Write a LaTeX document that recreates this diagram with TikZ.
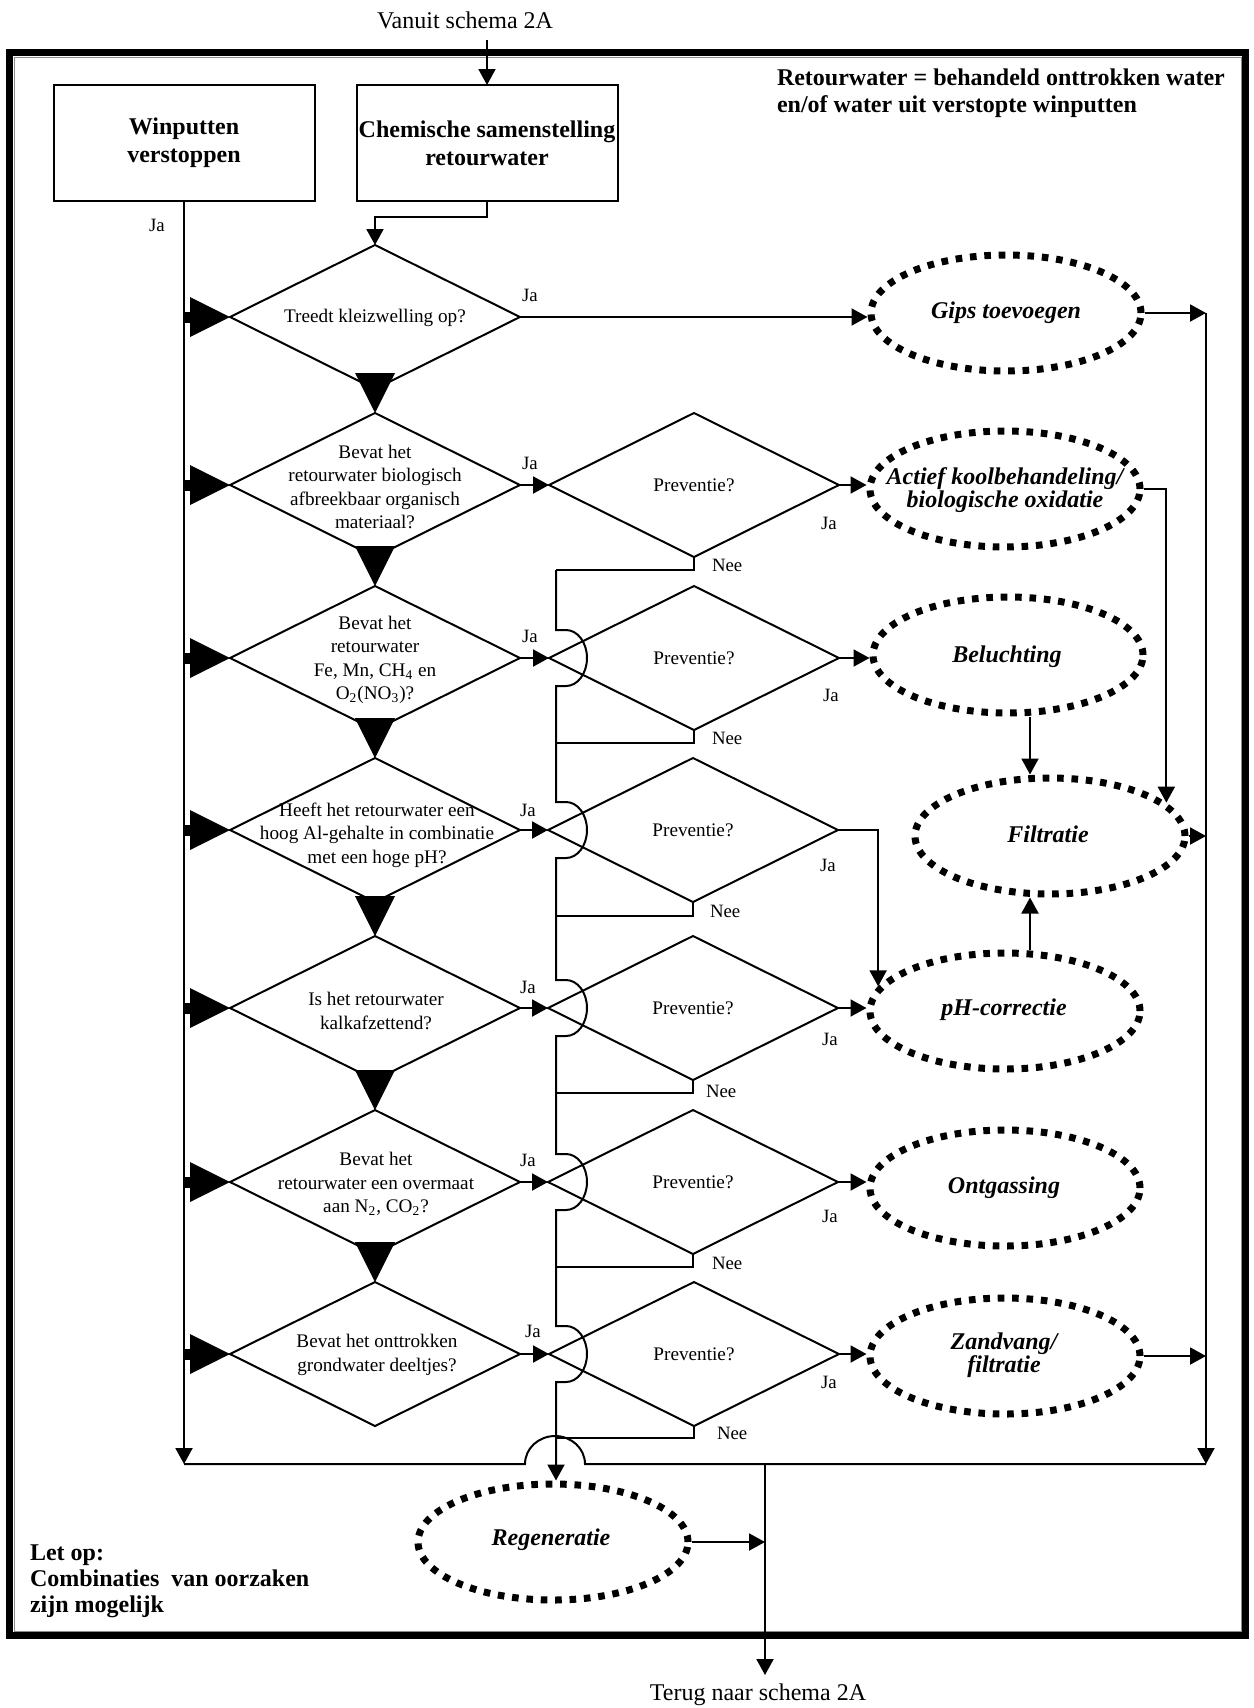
\documentclass[tikz,border=0pt]{standalone}
\usepackage{fontspec}
\setmainfont{Liberation Serif}
\usetikzlibrary{shapes.geometric,arrows.meta}

\begin{document}
\begin{tikzpicture}[x=0.5pt,y=-0.5pt,
  every node/.style={inner sep=0pt, outer sep=0pt},
  wire/.style={line width=1pt},
  arr/.style={wire,-{Triangle[length=8pt,width=8.5pt]}},
  bigarr/.style={line width=5.5pt,-{Triangle[length=20pt,width=20pt,line width=0pt]}},
  downarr/.style={line width=1pt,-{Triangle[length=20pt,width=20pt,line width=0pt]}},
  box/.style={draw, wire, minimum width=130.5pt, minimum height=58pt,
    font=\fontsize{12}{14}\selectfont\bfseries, align=center},
  dia/.style={draw, wire, diamond, minimum width=145pt, minimum height=72pt,
    font=\fontsize{9.6}{11.7}\selectfont},
  ell/.style={draw, ellipse, line width=3.5pt, dash pattern=on 3.3pt off 3.9pt,
    minimum width=135pt, minimum height=58pt, outer sep=1.75pt},
  etext/.style={font=\fontsize{12}{11}\selectfont\bfseries\itshape, align=center},
  dtext/.style={font=\fontsize{9.6}{11.7}\selectfont, align=center},
  lab/.style={font=\fontsize{9.4}{11}\selectfont},
  plain/.style={font=\fontsize{12}{14}\selectfont},
]
\useasboundingbox (0,0) rectangle (1253,1708);

% outer frame
\draw[line width=3.5pt] (9.5,52.5) rectangle (1245.5,1635.5);
\draw[line width=0.5pt, black!45] (14,57) rectangle (1241,1631);

% top: entry and the two start boxes
\node[plain] (vanuit) at (465,20) {Vanuit schema 2A};
\coordinate (vtop) at (487,40);
\node[box] (box1) at (184,143) {Winputten\\verstoppen};
\node[box] (box2) at (487,143) {Chemische samenstelling\\retourwater};
\node[font=\fontsize{12}{13.5}\selectfont\bfseries, align=left, anchor=west] (retour)
  at (777,93) {Retourwater = behandeld onttrokken water\\en/of water uit verstopte winputten};

% question diamonds
\node[dia] (d1) at (375,317) {};
\node[dtext] (d1t) at (375,318) {Treedt kleizwelling op?};
\node[dia] (d2) at (375,485) {};
\node[dtext] (d2t) at (375,487) {Bevat het\\retourwater biologisch\\afbreekbaar organisch\\materiaal?};
\node[dia] (d3) at (375,658) {};
\node[dtext] (d3t) at (375,660) {Bevat het\\retourwater\\Fe, Mn, CH\textsubscript{4} en\\O\textsubscript{2}(NO\textsubscript{3})?};
\node[dia] (d4) at (375,830) {};
\node[dtext] (d4t) at (377,835) {Heeft het retourwater een\\hoog Al-gehalte in combinatie\\met een hoge pH?};
\node[dia] (d5) at (375,1008) {};
\node[dtext] (d5t) at (376,1011) {Is het retourwater\\kalkafzettend?};
\node[dia] (d6) at (375,1182) {};
\node[dtext] (d6t) at (376,1184) {Bevat het\\retourwater een overmaat\\aan N\textsubscript{2}, CO\textsubscript{2}?};
\node[dia] (d7) at (375,1354) {};
\node[dtext] (d7t) at (377,1355) {Bevat het onttrokken\\grondwater deeltjes?};

% prevention diamonds
\node[dia] (p2) at (694,485) {Preventie?};
\node[dia] (p3) at (694,658) {Preventie?};
\node[dia] (p4) at (693,830) {Preventie?};
\node[dia] (p5) at (693,1008) {Preventie?};
\node[dia] (p6) at (693,1182) {Preventie?};
\node[dia] (p7) at (694,1354) {Preventie?};

% measures
\node[ell] (gips) at (1006,313) {};
\node[etext] (gipst) at (1006,313) {Gips toevoegen};
\node[ell] (akb) at (1005,489) {};
\node[etext, font=\fontsize{12}{10.5}\selectfont\bfseries\itshape] (akbt) at (1005,490)
  {Actief koolbehandeling/\\biologische oxidatie};
\node[ell] (bel) at (1008,655) {};
\node[etext] (belt) at (1007,657) {Beluchting};
\node[ell] (filt) at (1050,836) {};
\node[etext] (filtt) at (1048,834) {Filtratie};
\node[ell] (ph) at (1005,1011) {};
\node[etext] (pht) at (1004,1010) {pH-correctie};
\node[ell] (ontg) at (1005,1188) {};
\node[etext] (ontgt) at (1004,1188) {Ontgassing};
\node[ell] (zand) at (1005,1356) {};
\node[etext, font=\fontsize{12}{11.5}\selectfont\bfseries\itshape] (zandt) at (1004,1355)
  {Zandvang/\\filtratie};
\node[ell] (regen) at (553,1542) {};
\node[etext] (regent) at (551,1540) {Regeneratie};

% notes
\node[font=\fontsize{12}{13}\selectfont\bfseries, align=left, anchor=west] (letop)
  at (30,1581) {Let op:\\Combinaties\ \ van oorzaken\\zijn mogelijk};
\node[plain] (terug) at (758,1695) {Terug naar schema 2A};

% entry connectors
\draw[arr] (vtop) -- (box2.north);
\draw[arr] (box2.south) -- ++(0,16) -| (d1.north);

% left bus from the wells
\coordinate (lbot) at (184,1464);
\node[lab] (jaw) at (157,225) {Ja};
\draw[arr] (box1.south) -- (lbot);
\foreach \d in {d1,d2,d3,d4,d5,d6,d7}
  \draw[bigarr] (lbot |- \d.west) -- (\d.west);

% chain of questions
\draw[downarr] (d1.south) -- (d2.north);
\draw[downarr] (d2.south) -- (d3.north);
\draw[downarr] (d3.south) -- (d4.north);
\draw[downarr] (d4.south) -- (d5.north);
\draw[downarr] (d5.south) -- (d6.north);
\draw[downarr] (d6.south) -- (d7.north);

% yes branches of the questions
\draw[arr] (d1.east) -- (gips.west |- d1.east);
\draw[arr] (d2.east) -- (p2.west);
\draw[arr] (d3.east) -- (p3.west);
\draw[arr] (d4.east) -- (p4.west);
\draw[arr] (d5.east) -- (p5.west);
\draw[arr] (d6.east) -- (p6.west);
\draw[arr] (d7.east) -- (p7.west);
\node[lab] (ja1) at (530,295) {Ja};
\node[lab] (ja2) at (530,463) {Ja};
\node[lab] (ja3) at (530,636) {Ja};
\node[lab] (ja4) at (528,810) {Ja};
\node[lab] (ja5) at (528,987) {Ja};
\node[lab] (ja6) at (528,1160) {Ja};
\node[lab] (ja7) at (533,1331) {Ja};

% yes branches of prevention
\draw[arr] (p2.east) -- (akb.west |- p2.east);
\draw[arr] (p3.east) -- (bel.west |- p3.east);
\draw[arr] (p4.east) -| (ph.169);
\draw[arr] (p5.east) -- (ph.west |- p5.east);
\draw[arr] (p6.east) -- (ontg.west |- p6.east);
\draw[arr] (p7.east) -- (zand.west |- p7.east);
\node[lab] (pj2) at (829,523) {Ja};
\node[lab] (pj3) at (831,695) {Ja};
\node[lab] (pj4) at (828,865) {Ja};
\node[lab] (pj5) at (830,1039) {Ja};
\node[lab] (pj6) at (830,1216) {Ja};
\node[lab] (pj7) at (829,1382) {Ja};

% no branches into the regeneration bus
\coordinate (bus2) at (556,570);
\coordinate (bus3) at (556,743);
\coordinate (bus4) at (556,916);
\coordinate (bus5) at (556,1093);
\coordinate (bus6) at (556,1267);
\coordinate (bus7) at (556,1438);
\draw[wire] (p2.south) |- (bus2);
\draw[wire] (p3.south) |- (bus3);
\draw[wire] (p4.south) |- (bus4);
\draw[wire] (p5.south) |- (bus5);
\draw[wire] (p6.south) |- (bus6);
\draw[wire] (p7.south) |- (bus7);
\node[lab, anchor=west] (nee2) at (712,565) {Nee};
\node[lab, anchor=west] (nee3) at (712,738) {Nee};
\node[lab, anchor=west] (nee4) at (710,911) {Nee};
\node[lab, anchor=west] (nee5) at (706,1091) {Nee};
\node[lab, anchor=west] (nee6) at (712,1263) {Nee};
\node[lab, anchor=west] (nee7) at (717,1433) {Nee};

\draw[arr] (bus2)
  -- (556,630) -- (566,630) arc[start angle=-90,end angle=90,x radius=21,y radius=28] -- (556,686)
  -- (556,802) -- (566,802) arc[start angle=-90,end angle=90,x radius=21,y radius=28] -- (556,858)
  -- (556,980) -- (566,980) arc[start angle=-90,end angle=90,x radius=21,y radius=28] -- (556,1036)
  -- (556,1154) -- (566,1154) arc[start angle=-90,end angle=90,x radius=21,y radius=28] -- (556,1210)
  -- (556,1326) -- (566,1326) arc[start angle=-90,end angle=90,x radius=21,y radius=28] -- (556,1382)
  -- (bus2 |- regen.north);

% treatment chain towards filtration
\coordinate (bf) at (1030,0);
\draw[arr] (akb.east) -| (filt.16.5);
\draw[arr] (bel.south -| bf) -- (filt.north -| bf);
\draw[arr] (ph.north -| bf) -- (filt.south -| bf);

% right collector
\coordinate (ctop) at (1206,313);
\coordinate (cbot) at (1206,1464);
\draw[arr] (gips.east) -- (ctop);
\draw[arr] (ctop) -- (cbot);
\draw[arr] (filt.east) -- (filt.east -| ctop);
\draw[arr] (zand.east) -- (zand.east -| ctop);

% bottom return line and exit
\coordinate (mtop) at (765,1464);
\coordinate (mbot) at (765,1675);
\draw[wire] (lbot) -- (525,1464) arc[start angle=180,end angle=360,x radius=30,y radius=28] -- (cbot);
\draw[arr] (mtop) -- (mbot);
\draw[arr] (regen.east) -- (regen.east -| mtop);
\end{tikzpicture}
\end{document}
